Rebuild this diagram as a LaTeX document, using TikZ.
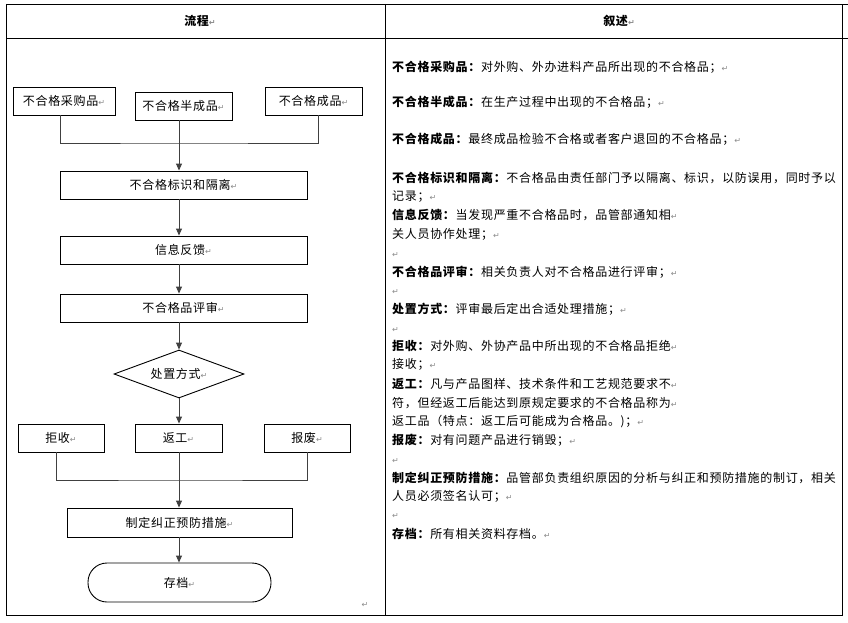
\documentclass[tikz,border=0pt]{standalone}
\usepackage{fontspec}
\usetikzlibrary{arrows.meta,shapes.geometric}
\newfontfamily\cjk[LetterSpace=5.8]{Noto Sans CJK SC}
\newfontfamily\retf{DejaVu Sans}
\definecolor{retgray}{HTML}{8A8A8A}
\newcommand\rmk{{\retf\fontsize{8}{8}\selectfont\textcolor{retgray}{↵}}}
\tikzset{
  every node/.style={font=\cjk\fontsize{12}{14}\selectfont, inner sep=0pt},
  fbox/.style={draw, line width=0.9pt, minimum height=28pt},
  conn/.style={draw, line width=0.9pt, black!75},
  arr/.style={conn, -{Triangle[length=7pt,width=6pt]}},
  rt/.style={anchor=base west},
  tline/.style={line width=0.9pt}
}
\begin{document}
\begin{tikzpicture}[x=1pt,y=-1pt]
\useasboundingbox (0,0) rectangle (848,623);
% table
\draw[tline] (6,4) -- (848,4);
\draw[tline] (6,38) -- (848,38);
\draw[tline] (6,4) -- (6,615) -- (842,615) -- (842,4);
\draw[tline] (385,4) -- (385,615);
\node[font=\cjk\bfseries\fontsize{12}{14}\selectfont] (h1) at (200,21) {流程\rmk};
\node[font=\cjk\bfseries\fontsize{12}{14}\selectfont] (h2) at (619,21) {叙述\rmk};

% flowchart
\node[fbox, minimum width=102pt] (p1) at (64,101) {不合格采购品\rmk};
\node[fbox, minimum width=97pt] (p2) at (183.5,106) {不合格半成品\rmk};
\node[fbox, minimum width=97pt] (p3) at (313.5,101) {不合格成品\rmk};
\node[fbox, minimum width=247pt] (q1) at (183.5,185) {不合格标识和隔离\rmk};
\node[fbox, minimum width=247pt] (q2) at (183.5,250) {信息反馈\rmk};
\node[fbox, minimum width=247pt] (q3) at (183.5,308) {不合格品评审\rmk};
\node[diamond, draw, line width=0.9pt, minimum width=130pt, minimum height=48pt, aspect=2.7] (dm) at (179,374) {处置方式\rmk};
\node[fbox, minimum width=86pt] (r1) at (61,438) {拒收\rmk};
\node[fbox, minimum width=87pt] (r2) at (178.5,438) {返工\rmk};
\node[fbox, minimum width=86pt] (r3) at (307,438) {报废\rmk};
\node[fbox, minimum width=225pt, minimum height=29pt] (s1) at (179.5,522.5) {制定纠正预防措施\rmk};
\node[draw, line width=0.9pt, rounded corners=19pt, minimum width=183pt, minimum height=39pt] (s2) at (179.5,582.5) {存档\rmk};
\node (e1) at (365,605) {\rmk};

\coordinate (j1) at (179,143);
\coordinate (j2) at (179,480);
\draw[conn] ([xshift=-4pt]p1.south) |- (j1) -| ([xshift=4.5pt]p3.south);
\draw[arr] (p2.south -| j1) -- (q1.north -| j1);
\draw[arr] (q1.south -| j1) -- (q2.north -| j1);
\draw[arr] (q2.south -| j1) -- (q3.north -| j1);
\draw[arr] (q3.south -| j1) -- (dm.north);
\draw[arr] (dm.south) -- (r2.north -| j1);
\draw[conn] ([xshift=-5pt]r1.south) |- (j2) -| (r3.south);
\draw[arr] (r2.south -| j2) -- (s1.north -| j2);
\draw[arr] (s1.south -| j2) -- (s2.north -| j2);

% description column
\node[rt] (t1) at (392,72) {\textbf{不合格采购品：}对外购、外办进料产品所出现的不合格品；\rmk};
\node[rt] (t2) at (392,107) {\textbf{不合格半成品：}在生产过程中出现的不合格品；\rmk};
\node[rt] (t3) at (392,143) {\textbf{不合格成品：}最终成品检验不合格或者客户退回的不合格品；\rmk};
\node[rt] (t4) at (392,182) {\textbf{不合格标识和隔离：}不合格品由责任部门予以隔离、标识，以防误用，同时予以};
\node[rt] (t5) at (392,200) {记录；\rmk};
\node[rt] (t6) at (392,219) {\textbf{信息反馈：}当发现严重不合格品时，品管部通知相\rmk};
\node[rt] (t7) at (392,238) {关人员协作处理；\rmk};
\node[rt] (t8) at (392,257) {\rmk};
\node[rt] (t9) at (392,276) {\textbf{不合格品评审：}相关负责人对不合格品进行评审；\rmk};
\node[rt] (t10) at (392,294) {\rmk};
\node[rt] (t11) at (392,313) {\textbf{处置方式：}评审最后定出合适处理措施；\rmk};
\node[rt] (t12) at (392,332) {\rmk};
\node[rt] (t13) at (392,350) {\textbf{拒收：}对外购、外协产品中所出现的不合格品拒绝\rmk};
\node[rt] (t14) at (392,368) {接收；\rmk};
\node[rt] (t15) at (392,388) {\textbf{返工：}凡与产品图样、技术条件和工艺规范要求不\rmk};
\node[rt] (t16) at (392,407) {符，但经返工后能达到原规定要求的不合格品称为\rmk};
\node[rt] (t17) at (392,425) {返工品（特点：返工后可能成为合格品。)；\rmk};
\node[rt] (t18) at (392,444) {\textbf{报废：}对有问题产品进行销毁；\rmk};
\node[rt] (t19) at (392,463) {\rmk};
\node[rt] (t20) at (392,482) {\textbf{制定纠正预防措施：}品管部负责组织原因的分析与纠正和预防措施的制订，相关};
\node[rt] (t21) at (392,500) {人员必须签名认可；\rmk};
\node[rt] (t22) at (392,518) {\rmk};
\node[rt] (t23) at (392,538) {\textbf{存档：}所有相关资料存档。\rmk};
\end{tikzpicture}
\end{document}
